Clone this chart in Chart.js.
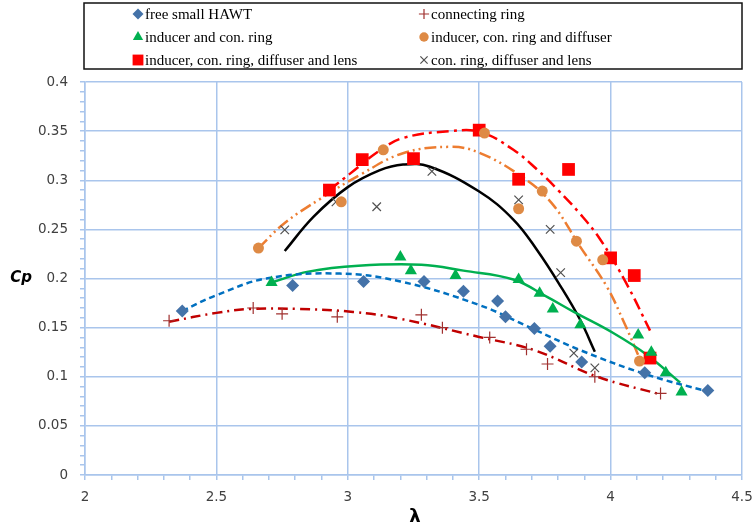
<!DOCTYPE html>
<html>
<head>
<meta charset="utf-8">
<script src="https://cdn.jsdelivr.net/npm/chart.js@4.4.1/dist/chart.umd.min.js"></script>
<style>
    html, body { margin: 0; padding: 0; background: #fff; }
    #wrap { width: 754px; height: 528px; }
</style>
</head>
<body>
<div id="wrap"><canvas id="cp" width="754" height="528"></canvas></div>
<script>
const hawtX = [2.37, 2.79, 3.06, 3.29, 3.44, 3.57, 3.60, 3.71, 3.77, 3.89, 4.13, 4.37];
const hawtY = [0.167, 0.193, 0.197, 0.197, 0.187, 0.177, 0.161, 0.149, 0.131, 0.115, 0.104, 0.086];

const ringX = [2.32, 2.64, 2.75, 2.96, 3.28, 3.36, 3.54, 3.68, 3.76, 3.94, 4.19];
const ringY = [0.157, 0.170, 0.164, 0.161, 0.163, 0.150, 0.140, 0.128, 0.113, 0.100, 0.083];

const inducerX = [2.71, 3.20, 3.24, 3.41, 3.65, 3.73, 3.78, 3.885, 4.105, 4.155, 4.21, 4.27];
const inducerY = [0.196, 0.222, 0.208, 0.203, 0.199, 0.185, 0.169, 0.153, 0.1425, 0.125, 0.104, 0.0845];

const diffuserX = [2.66, 2.975, 3.135, 3.52, 3.65, 3.74, 3.87, 3.97, 4.11];
const diffuserY = [0.231, 0.278, 0.331, 0.348, 0.271, 0.289, 0.238, 0.219, 0.116];

const lensX = [2.93, 3.055, 3.25, 3.50, 3.65, 3.84, 4.00, 4.09, 4.15];
const lensY = [0.290, 0.321, 0.322, 0.351, 0.301, 0.311, 0.221, 0.203, 0.119];

const noIndX = [2.76, 2.955, 3.11, 3.32, 3.65, 3.77, 3.81, 3.86, 3.94];
const noIndY = [0.2495, 0.278, 0.273, 0.309, 0.280, 0.250, 0.206, 0.124, 0.109];

// ---- trend lines, points ----
const hawtFitX = [2.37, 2.5, 2.69, 2.97, 3.2, 3.5, 3.71, 3.885, 4.14, 4.37];
const hawtFitY = [0.167, 0.183, 0.200, 0.205, 0.197, 0.173, 0.148, 0.127, 0.102, 0.085];

const ringFitX = [2.32, 2.5, 2.63, 2.81, 3.02, 3.2, 3.5, 3.71, 3.95, 4.19];
const ringFitY = [0.156, 0.165, 0.169, 0.169, 0.166, 0.159, 0.1405, 0.127, 0.100, 0.082];

const inducerFitX = [2.71, 2.85, 3.04, 3.28, 3.44, 3.63, 3.76, 3.86, 4.01, 4.14, 4.265];
const inducerFitY = [0.196, 0.207, 0.213, 0.214, 0.208, 0.199, 0.181, 0.166, 0.1445, 0.122, 0.094];

const diffuserFitX = [2.66, 2.76, 2.895, 3.05, 3.21, 3.39, 3.50, 3.66, 3.775, 3.884, 3.985, 4.05, 4.11];
const diffuserFitY = [0.231, 0.2565, 0.281, 0.306, 0.3275, 0.334, 0.328, 0.304, 0.277, 0.2325, 0.192, 0.156, 0.119];

const lensFitX = [2.93, 3.01, 3.12, 3.21, 3.39, 3.505, 3.63, 3.72, 3.80, 3.88, 3.96, 4.06, 4.15];
const lensFitY = [0.290, 0.307, 0.330, 0.343, 0.350, 0.349, 0.331, 0.311, 0.290, 0.267, 0.240, 0.195, 0.147];

const noIndFitX = [2.76, 2.87, 3.00, 3.12, 3.21, 3.31, 3.50, 3.63, 3.72, 3.81, 3.884, 3.94];
const noIndFitY = [0.228, 0.263, 0.293, 0.310, 0.316, 0.314, 0.2885, 0.260, 0.229, 0.192, 0.158, 0.1255];

// ---- axis labels ----
const xTickLabels = ['2', '2.5', '3', '3.5', '4', '4.5'];
const yTickLabels = ['0', '0.05', '0.1', '0.15', '0.2', '0.25', '0.3', '0.35', '0.4'];

const GRID = '#A9C5EC';
const TICK_FONT = {family: 'DejaVu Sans', size: 13.5};

const pts = (xs, ys) => xs.map((x, i) => ({x: x, y: ys[i]}));
const lbl = v => String(Math.round(v * 100) / 100);

function markers(label, xs, ys, style, color, radius, bw) {
    return {
        label: label,
        data: pts(xs, ys),
        showLine: false,
        pointStyle: style,
        pointRadius: radius,
        pointHoverRadius: radius,
        backgroundColor: color,
        borderColor: color,
        pointBorderWidth: bw,
        order: 1,
        isMarker: true,
    };
}

function trend(xs, ys, color, dash) {
    return {
        label: '',
        data: pts(xs, ys),
        showLine: true,
        pointRadius: 0,
        borderColor: color,
        borderWidth: 2.5,
        borderDash: dash,
        tension: 0.4,
        fill: false,
        order: 2,
    };
}

// legend drawn in a box above the plot, two columns
const legendBox = {
    id: 'legendBox',
    afterDraw(chart) {
        const {ctx} = chart;
        ctx.save();
        ctx.fillStyle = '#fff';
        ctx.fillRect(84, 3, 658, 66);
        ctx.strokeStyle = '#111';
        ctx.lineWidth = 1.5;
        ctx.strokeRect(84, 3, 658, 66);
        const items = chart.data.datasets.filter(d => d.isMarker);
        items.forEach((ds, i) => {
            const mx = i % 2 ? 424 : 138;
            const my = 14 + Math.floor(i / 2) * 23;
            ctx.fillStyle = ds.backgroundColor;
            ctx.strokeStyle = ds.borderColor;
            ctx.lineWidth = ds.pointBorderWidth || 1;
            Chart.helpers.drawPoint(ctx, {
                pointStyle: ds.pointStyle,
                radius: ds.pointRadius * 0.85,
                borderWidth: ds.pointBorderWidth,
                rotation: 0
            }, mx, my);
            ctx.fillStyle = '#000';
            ctx.font = '15px "Liberation Serif"';
            ctx.textAlign = 'left';
            ctx.textBaseline = 'middle';
            ctx.fillText(ds.label, mx + 7, my + 1);
        });
        // axis titles
        ctx.fillStyle = '#000';
        ctx.font = 'italic bold 15px "DejaVu Sans"';
        ctx.textAlign = 'center';
        ctx.textBaseline = 'middle';
        ctx.fillText('Cp', 21, 278);
        ctx.font = 'bold 18px "DejaVu Sans"';
        ctx.fillText('λ', 415, 517);
        ctx.restore();
    }
};

new Chart(document.getElementById('cp'), {
    type: 'scatter',
    data: {
        datasets: [
            trend(hawtFitX, hawtFitY, '#0070C0', [6, 4]),
            trend(ringFitX, ringFitY, '#C00000', [10, 5, 2, 5]),
            trend(inducerFitX, inducerFitY, '#00B050', []),
            trend(diffuserFitX, diffuserFitY, '#ED7D31', [12, 4, 2, 4, 2, 4]),
            trend(lensFitX, lensFitY, '#FF0000', [12, 5, 3, 5]),
            trend(noIndFitX, noIndFitY, '#000000', []),
            markers('free small HAWT', hawtX, hawtY, 'rectRot', '#4472A8', 6.5, 0),
            markers('connecting ring', ringX, ringY, 'cross', '#A0302F', 6, 1.2),
            markers('inducer and con. ring', inducerX, inducerY, 'triangle', '#00B050', 7, 0),
            markers('inducer, con. ring and diffuser', diffuserX, diffuserY, 'circle', '#DE8A45', 5.5, 0),
            markers('inducer, con. ring, diffuser and lens', lensX, lensY, 'rect', '#FF0000', 9, 0),
            markers('con. ring, diffuser and lens', noIndX, noIndY, 'crossRot', '#505050', 6, 1.2),
        ]
    },
    options: {
        responsive: false,
        animation: false,
        devicePixelRatio: 1,
        layout: {padding: {top: 82, right: 12, left: 0, bottom: 0}},
        plugins: {
            legend: {display: false},
            tooltip: {enabled: false},
        },
        scales: {
            x: {
                type: 'linear',
                min: 2,
                max: 4.5,
                // fixed height, and let the end labels overhang the plot edges
                afterFit: s => { s.height = 53; s.paddingLeft = 0; s.paddingRight = 0; },
                ticks: {
                    stepSize: 0.1,
                    maxTicksLimit: 1000,
                    autoSkip: false,
                    maxRotation: 0,
                    padding: 9,
                    color: '#404040',
                    font: TICK_FONT,
                    callback: v => xTickLabels.includes(lbl(v)) ? lbl(v) : '',
                },
                grid: {
                    color: c => xTickLabels.includes(lbl(c.tick.value)) ? GRID : 'rgba(0,0,0,0)',
                    tickColor: GRID,
                    tickLength: 5,
                    lineWidth: 1.5,
                },
                border: {color: GRID, width: 1.5},
            },
            y: {
                type: 'linear',
                min: 0,
                max: 0.4,
                afterFit: s => { s.width = 85; s.paddingTop = 0; s.paddingBottom = 0; },
                ticks: {
                    stepSize: 0.01,
                    maxTicksLimit: 1000,
                    autoSkip: false,
                    padding: 12,
                    color: '#404040',
                    font: TICK_FONT,
                    callback: v => yTickLabels.includes(lbl(v)) ? lbl(v) : '',
                },
                grid: {
                    color: c => yTickLabels.includes(lbl(c.tick.value)) ? GRID : 'rgba(0,0,0,0)',
                    tickColor: GRID,
                    tickLength: 5,
                    lineWidth: 1.5,
                },
                border: {color: GRID, width: 1.5},
            }
        }
    },
    plugins: [legendBox]
});
</script>
</body>
</html>
